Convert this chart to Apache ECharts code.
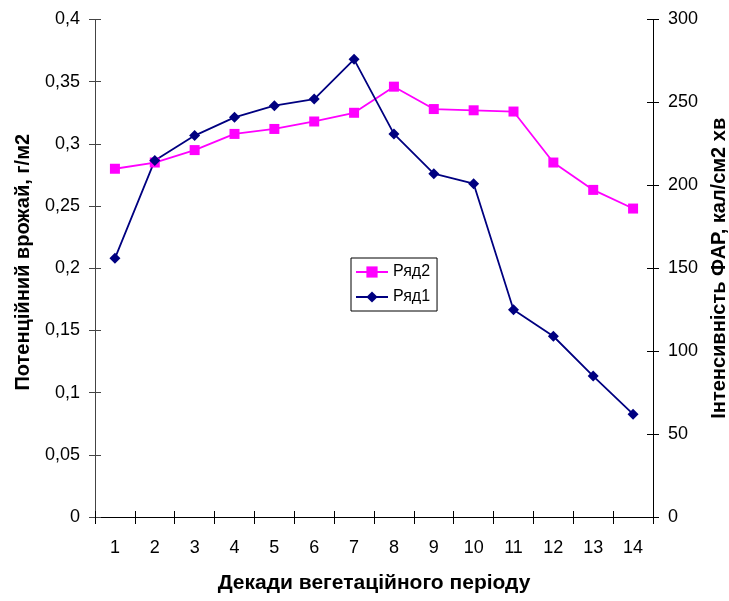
<!DOCTYPE html>
<html><head><meta charset="utf-8">
<script src="https://cdn.jsdelivr.net/npm/echarts@6/dist/echarts.min.js"></script>
<style>html,body{margin:0;padding:0;background:#fff;overflow:hidden}#c{width:729px;height:601px}</style>
</head><body><div id="c"></div>
<script>
const categories = ['1','2','3','4','5','6','7','8','9','10','11','12','13','14'];
const ryad2 = [0.280,0.285,0.295,0.308,0.312,0.318,0.325,0.346,0.328,0.327,0.326,0.285,0.263,0.248];
const ryad1 = [156,215,230,241,248,252,276,231,207,201,125,109,85,62];
const leftTitle = 'Потенційний врожай, г/м2';
const rightTitle = 'Інтенсивність ФАР, кал/см2 хв';
const xTitle = 'Декади вегетаційного періоду';

const FONT = '"Liberation Sans", Arial, sans-serif';
const chart = echarts.init(document.getElementById('c'), null, {renderer:'canvas'});
const yBase = (min,max,interval)=>({type:'value',min,max,interval,splitLine:{show:false}});
chart.setOption({
  animation:false,
  textStyle:{fontFamily:FONT},
  grid:{left:95,right:76,top:19.5,bottom:84,containLabel:false,outerBoundsMode:'none'},
  legend:{
    orient:'vertical', left:351, top:258, width:84,
    data:['Ряд2','Ряд1'],
    borderColor:'#000', borderWidth:1, padding:[6,7,6,4],
    itemWidth:32, itemHeight:14, itemGap:9,
    textStyle:{fontFamily:FONT,fontSize:16,color:'#000'}
  },
  xAxis:[
    {type:'category',data:categories,boundaryGap:true,position:'bottom',
     axisLine:{lineStyle:{color:'#000',width:1}},
     axisTick:{show:true,length:7,lineStyle:{color:'#000'}},
     axisLabel:{fontSize:18,color:'#000',margin:22,fontFamily:FONT},
     name:xTitle,nameLocation:'middle',nameGap:56,
     nameTextStyle:{fontSize:21,fontWeight:'bold',color:'#000',fontFamily:FONT}},
    {type:'category',data:categories,boundaryGap:true,position:'bottom',
     axisLine:{show:false},axisLabel:{show:false},
     axisTick:{show:true,inside:true,length:6,lineStyle:{color:'#000'}}}
  ],
  yAxis:[
    Object.assign(yBase(0,0.4,0.05),{position:'left',
      axisLine:{show:true,lineStyle:{color:'#444'}},
      axisTick:{show:true,length:6,lineStyle:{color:'#444'}},
      axisLabel:{fontSize:18,color:'#000',margin:15,fontFamily:FONT,
        formatter:v=>String(+v.toFixed(2)).replace('.',',')},
      name:leftTitle,nameLocation:'middle',nameGap:62,nameRotate:90,
      nameTextStyle:{fontSize:20,fontWeight:'bold',color:'#000',fontFamily:FONT,padding:[0,0,0,12]}}),
    Object.assign(yBase(0,300,50),{position:'right',
      axisLine:{show:true,lineStyle:{color:'#000'}},
      axisTick:{show:true,length:6,lineStyle:{color:'#000'}},
      axisLabel:{fontSize:18,color:'#000',margin:15,fontFamily:FONT},
      name:rightTitle,nameLocation:'middle',nameGap:56,nameRotate:90,
      nameTextStyle:{fontSize:20,fontWeight:'bold',color:'#000',fontFamily:FONT}}),
    Object.assign(yBase(0,0.4,0.05),{position:'left',axisLine:{show:false},axisLabel:{show:false},
      axisTick:{show:true,inside:true,length:6,lineStyle:{color:'#444'}}}),
    Object.assign(yBase(0,300,50),{position:'right',axisLine:{show:false},axisLabel:{show:false},
      axisTick:{show:true,inside:true,length:6,lineStyle:{color:'#000'}}})
  ],
  series:[
    {name:'Ряд2',type:'line',data:ryad2,yAxisIndex:0,xAxisIndex:0,
     symbol:'rect',symbolSize:10,showAllSymbol:true,
     itemStyle:{color:'#FF00FF'},lineStyle:{color:'#FF00FF',width:1.8}},
    {name:'Ряд1',type:'line',data:ryad1,yAxisIndex:1,xAxisIndex:0,
     symbol:'diamond',symbolSize:11,showAllSymbol:true,
     itemStyle:{color:'#000080'},lineStyle:{color:'#000080',width:1.8}}
  ]
});
</script></body></html>
